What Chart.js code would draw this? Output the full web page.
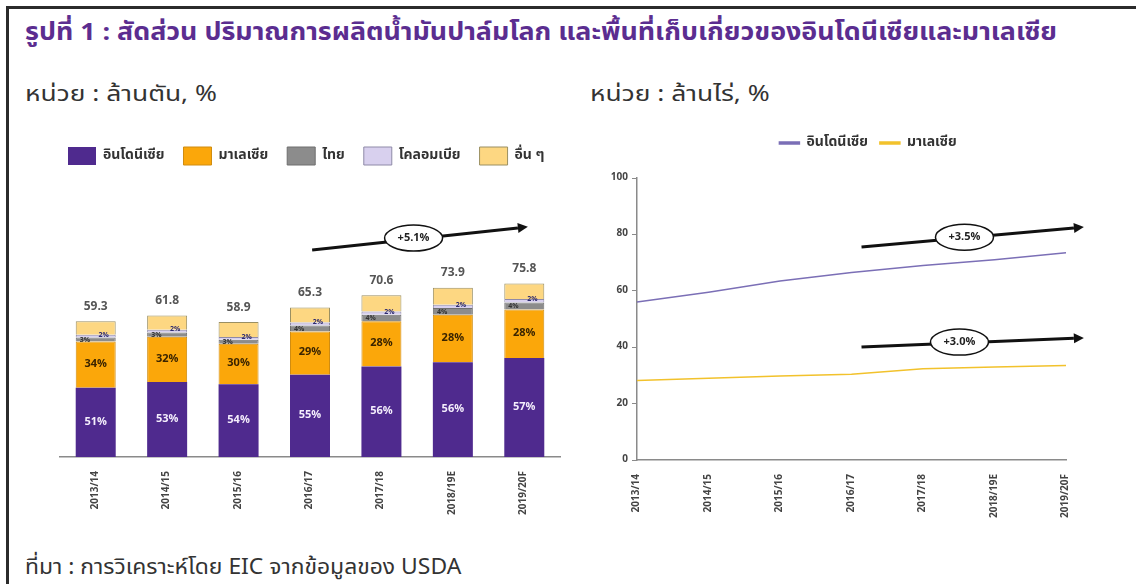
<!DOCTYPE html>
<html><head><meta charset="utf-8">
<script src="https://cdn.jsdelivr.net/npm/chart.js@4.4.1/dist/chart.umd.min.js"></script>
<style>
html,body{margin:0;padding:0;background:#fff;overflow:hidden;}
body{width:1136px;height:584px;position:relative;font-family:'Noto Sans Thai','Noto Sans','DejaVu Sans',sans-serif;}
#ftop{position:absolute;left:6px;top:6px;width:1130px;height:3px;background:#2b2b2b;}
#fleft{position:absolute;left:6px;top:6px;width:3px;height:578px;background:#2b2b2b;}
#rcover{position:absolute;left:1120px;top:9px;width:16px;height:575px;background:#fff;z-index:10;}
#title{position:absolute;left:25px;top:17px;font-size:24px;line-height:32px;font-weight:bold;color:#5b2d90;white-space:nowrap;transform:scaleX(1.117);transform-origin:0 50%;}
.unit{position:absolute;top:80px;font-size:22px;line-height:30px;color:#333;white-space:nowrap;transform:scaleX(1.2);transform-origin:0 50%;}
#src{position:absolute;left:25px;top:553px;font-size:22px;line-height:30px;color:#333;white-space:nowrap;transform:scaleX(1.04);transform-origin:0 50%;}
.cw{position:absolute;}
</style></head><body>
<div id="ftop"></div><div id="fleft"></div><div id="rcover"></div>
<div id="title">รูปที่ 1 : สัดส่วน ปริมาณการผลิตน้ำมันปาล์มโลก และพื้นที่เก็บเกี่ยวของอินโดนีเซียและมาเลเซีย</div>
<div class="unit" style="left:25px">หน่วย : ล้านตัน, %</div>
<div class="unit" style="left:590px">หน่วย : ล้านไร่, %</div>
<div class="cw" style="left:40px;top:128px;width:530px;height:409px"><canvas id="c1" width="530" height="409"></canvas></div>
<div class="cw" style="left:590px;top:124px;width:500px;height:406px"><canvas id="c2" width="500" height="406"></canvas></div>
<div id="src">ที่มา : การวิเคราะห์โดย EIC จากข้อมูลของ USDA</div>
<script>
// ---------- data ----------
const categories = ['2013/14','2014/15','2015/16','2016/17','2017/18','2018/19E','2019/20F'];
const totalOutput = [59.3, 61.8, 58.9, 65.3, 70.6, 73.9, 75.8];      // ล้านตัน
const shareIndonesia = [51, 53, 54, 55, 56, 56, 57];                  // %
const shareMalaysia  = [34, 32, 30, 29, 28, 28, 28];
const shareThailand  = [3, 3, 3, 4, 4, 4, 4];
const shareColombia  = [2, 2, 2, 2, 2, 2, 2];
const shareOthers    = [10, 10, 11, 10, 10, 10, 9];
const seriesNamesBar = ['อินโดนีเซีย','มาเลเซีย','ไทย','โคลอมเบีย','อื่น ๆ'];
const areaIndonesia = [56.0, 59.5, 63.5, 66.5, 69.0, 71.0, 73.5];    // ล้านไร่
const areaMalaysia  = [28.2, 29.0, 29.8, 30.4, 32.4, 33.0, 33.5];
const seriesNamesLine = ['อินโดนีเซีย','มาเลเซีย'];
const areaTicks = [0, 20, 40, 60, 80, 100];
const growthLabels = ['+5.1%', '+3.5%', '+3.0%'];

// ---------- helpers ----------
const FONT = "'Noto Sans Thai','Noto Sans','DejaVu Sans',sans-serif";
Chart.defaults.font.family = FONT;
const shares = [shareIndonesia, shareMalaysia, shareThailand, shareColombia, shareOthers];
const segValues = shares.map(s => s.map((p, i) => totalOutput[i] * p / 100));
const barColors = ['#4f2a8e', '#fba70a', '#8c8c8c', '#d8d0ee', '#fdd782'];
const barBorders = ['#4f2a8e', '#d08c10', '#6f6f6f', '#8f8aa8', '#9a8f62'];

const legendShift = {
  id: 'legendShift',
  afterLayout(chart, args, opts) {
    const l = chart.legend; if (!l) return;
    const w = opts.width || (l.right - l.left);
    l.left += opts.dx || 0;
    l.right = l.left + w;
  }
};
const legendGap = {
  id: 'legendGap',
  beforeLayout(chart, args, opts) {
    const l = chart.legend;
    if (!l || l._patched) return;
    const orig = l.fit;
    l.fit = function () {
      if (opts.maxWidth) this.maxWidth = opts.maxWidth;
      orig.call(this);
      this.height = opts.height;
    };
    l._patched = true;
  }
};

function drawArrow(ctx, x1, y1, x2, y2) {
  ctx.save();
  ctx.strokeStyle = '#111'; ctx.fillStyle = '#111'; ctx.lineWidth = 3;
  const ang = Math.atan2(y2 - y1, x2 - x1);
  const hx = x2 - 10 * Math.cos(ang), hy = y2 - 10 * Math.sin(ang);
  ctx.beginPath(); ctx.moveTo(x1, y1); ctx.lineTo(hx, hy); ctx.stroke();
  ctx.beginPath();
  ctx.moveTo(x2, y2);
  ctx.lineTo(hx + 5 * Math.sin(ang), hy - 5 * Math.cos(ang));
  ctx.lineTo(hx - 5 * Math.sin(ang), hy + 5 * Math.cos(ang));
  ctx.closePath(); ctx.fill();
  ctx.restore();
}
function drawBadge(ctx, x, y, text) {
  ctx.save();
  ctx.beginPath(); ctx.ellipse(x, y, 29, 13, 0, 0, Math.PI * 2);
  ctx.fillStyle = '#fff'; ctx.fill();
  ctx.lineWidth = 1.5; ctx.strokeStyle = '#111'; ctx.stroke();
  ctx.fillStyle = '#222'; ctx.font = 'bold 11px ' + FONT;
  ctx.textAlign = 'center'; ctx.textBaseline = 'middle';
  ctx.fillText(text, x, y + 1);
  ctx.restore();
}
// annotations given in data coordinates (category index, value)
const growthArrows = {
  id: 'growthArrows',
  afterDraw(chart, args, opts) {
    const ctx = chart.ctx, xs = chart.scales.x, ys = chart.scales.y;
    opts.items.forEach(it => {
      drawArrow(ctx, xs.getPixelForValue(it.from[0]), ys.getPixelForValue(it.from[1]),
                     xs.getPixelForValue(it.to[0]), ys.getPixelForValue(it.to[1]));
      drawBadge(ctx, xs.getPixelForValue(it.badge[0]), ys.getPixelForValue(it.badge[1]), it.text);
    });
  }
};
const barLabels = {
  id: 'barLabels',
  afterDatasetsDraw(chart) {
    const ctx = chart.ctx;
    ctx.save(); ctx.textAlign = 'center'; ctx.textBaseline = 'middle';
    const metas = chart.data.datasets.map((d, i) => chart.getDatasetMeta(i));
    categories.forEach((c, i) => {
      const b0 = metas[0].data[i], b1 = metas[1].data[i], b2 = metas[2].data[i], b3 = metas[3].data[i], b4 = metas[4].data[i];
      ctx.font = 'bold 11px ' + FONT;
      ctx.fillStyle = '#f4eefc';
      ctx.fillText(shareIndonesia[i] + '%', b0.x, (b0.y + b0.base) / 2);
      ctx.fillStyle = '#3a2400';
      ctx.fillText(shareMalaysia[i] + '%', b1.x, (b1.y + b1.base) / 2);
      ctx.font = 'bold 7px ' + FONT;
      ctx.fillStyle = '#333';
      ctx.fillText(shareThailand[i] + '%', b2.x - b2.width * 0.27, (b2.y + b2.base) / 2 + 1);
      ctx.fillStyle = '#2d2a70';
      ctx.fillText(shareColombia[i] + '%', b3.x + b3.width * 0.2, (b3.y + b3.base) / 2 - 1);
      ctx.font = 'bold 12px ' + FONT;
      ctx.fillStyle = '#555';
      ctx.fillText(totalOutput[i].toFixed(1), b4.x, b4.y - 14);
    });
    ctx.restore();
  }
};

// ---------- left: stacked bars ----------
new Chart(document.getElementById('c1'), {
  type: 'bar',
  data: {
    labels: categories,
    datasets: seriesNamesBar.map((n, k) => ({
      label: n, data: segValues[k], backgroundColor: barColors[k],
      borderColor: barBorders[k], borderWidth: k === 0 ? 0 : 1,
      barPercentage: 0.56, categoryPercentage: 1
    }))
  },
  options: {
    responsive: false, animation: false,
    layout: { padding: { left: 20, right: 10, top: 0, bottom: 0 } },
    scales: {
      x: {
        stacked: true,
        grid: { display: false },
        border: { color: '#8a8a8a', width: 1.5 },
        ticks: { maxRotation: 90, minRotation: 90, color: '#444', font: { size: 10, weight: 'bold' }, padding: 6 },
        afterFit: s => { s.height = 80; }
      },
      y: { stacked: true, display: false, min: 0, max: 100 }
    },
    plugins: {
      legend: {
        align: 'start',
        labels: { boxWidth: 28, boxHeight: 18, padding: 19, color: '#333', font: { size: 14, weight: 'bold' } }
      },
      tooltip: { enabled: false },
      legendGap: { height: 100, maxWidth: 600 },
      legendShift: { dx: -11, width: 600 },
      growthArrows: { items: [
        { from: [3.03, 90.4], to: [6.05, 100.5], badge: [4.45, 95.6], text: growthLabels[0] }
      ] }
    }
  },
  plugins: [legendGap, legendShift, barLabels, growthArrows]
});

// ---------- right: lines ----------
new Chart(document.getElementById('c2'), {
  type: 'line',
  data: {
    labels: categories,
    datasets: [
      { label: seriesNamesLine[0], data: areaIndonesia, borderColor: '#7b6fb6', backgroundColor: '#7b6fb6', borderWidth: 1.5, pointRadius: 0, tension: 0 },
      { label: seriesNamesLine[1], data: areaMalaysia, borderColor: '#f2c22c', backgroundColor: '#f2c22c', borderWidth: 1.5, pointRadius: 0, tension: 0 }
    ]
  },
  options: {
    responsive: false, animation: false,
    layout: { padding: { right: 24 } },
    scales: {
      x: {
        offset: false,
        grid: { display: false },
        border: { color: '#8a8a8a', width: 1.5 },
        ticks: { maxRotation: 90, minRotation: 90, color: '#444', font: { size: 10, weight: 'bold' }, padding: 6 },
        afterFit: s => { s.height = 70; }
      },
      y: {
        min: 0, max: 100,
        afterBuildTicks: s => { s.ticks = areaTicks.map(v => ({ value: v })); },
        grid: { drawOnChartArea: false, drawTicks: true, tickLength: 5, color: '#8a8a8a' },
        border: { color: '#8a8a8a', width: 1.5 },
        ticks: { color: '#444', font: { size: 10, weight: 'bold' }, padding: 4 },
        afterFit: s => { s.width = 47; }
      }
    },
    plugins: {
      legend: {
        labels: { boxWidth: 20, boxHeight: 2, padding: 12, color: '#333', font: { size: 14, weight: 'bold' } }
      },
      tooltip: { enabled: false },
      legendGap: { height: 54 },
      legendShift: { dx: 40 },
      growthArrows: { items: [
        { from: [3.14, 75.5], to: [6.25, 82.6], badge: [4.58, 79.0], text: growthLabels[1] },
        { from: [3.14, 40.1], to: [6.25, 43.3], badge: [4.51, 41.8], text: growthLabels[2] }
      ] }
    }
  },
  plugins: [legendGap, legendShift, growthArrows]
});
</script>
</body></html>
